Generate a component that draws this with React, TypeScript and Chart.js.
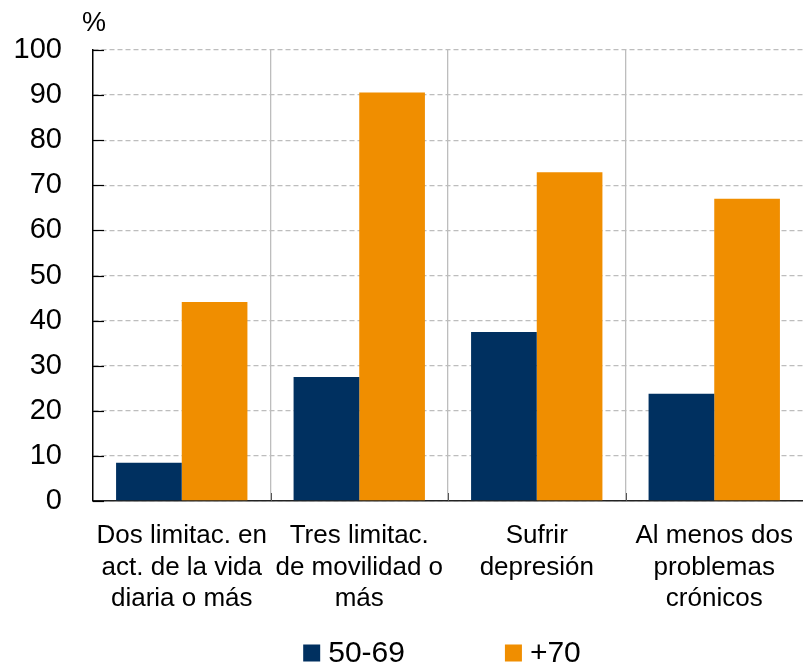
import React, { useEffect, useRef } from "react";
import { Chart, registerables } from "chart.js";

Chart.register(...registerables);

const categories: string[][] = [
  ["Dos limitac. en", "act. de la vida", "diaria o más"],
  ["Tres limitac.", "de movilidad o", "más"],
  ["Sufrir", "depresión"],
  ["Al menos dos", "problemas", "crónicos"],
];
const seriesNames = ["50-69", "+70"];
const values5069 = [8.5, 27.5, 37.5, 23.8];
const values70 = [44.1, 90.6, 72.9, 67.0];
const colors = ["#003060", "#F08E00"];
const yUnit = "%";

const FONT = '"Liberation Sans", Arial, Helvetica, sans-serif';

const extrasPlugin = {
  id: "extras",
  afterDatasetsDraw(chart: any) {
    const { ctx, chartArea } = chart;
    const y = chart.scales.y;
    const x = chart.scales.x;
    ctx.save();
    // inward ticks on y axis
    ctx.strokeStyle = "#000";
    ctx.lineWidth = 1.2;
    y.ticks.forEach((t: any) => {
      const py = Math.round(y.getPixelForValue(t.value)) + 0.5;
      ctx.beginPath();
      ctx.moveTo(chartArea.left, py);
      ctx.lineTo(chartArea.left + 11, py);
      ctx.stroke();
    });
    // short dark ticks at category boundaries
    ctx.strokeStyle = "#555";
    ctx.lineWidth = 1;
    for (let i = 1; i < categories.length; i++) {
      const px = Math.round((x.getPixelForValue(i - 1) + x.getPixelForValue(i)) / 2) + 0.5;
      ctx.beginPath();
      ctx.moveTo(px, chartArea.bottom);
      ctx.lineTo(px, chartArea.bottom - 8);
      ctx.stroke();
    }
    // unit label
    ctx.fillStyle = "#000";
    ctx.font = `27px ${FONT}`;
    ctx.textAlign = "center";
    ctx.textBaseline = "middle";
    ctx.fillText(yUnit, chartArea.left + 1, chartArea.top - 26);
    // legend
    ctx.font = `30px ${FONT}`;
    ctx.textAlign = "left";
    const box = 17;
    const gapText = 8;
    const gapItem = 100;
    const widths = seriesNames.map((n) => ctx.measureText(n).width);
    const total = widths.reduce((a: number, w: number) => a + box + gapText + w, 0) + gapItem * (seriesNames.length - 1);
    const cx = (chartArea.left + chartArea.right) / 2 - 6;
    let sx = cx - total / 2;
    const ly = 653;
    seriesNames.forEach((n, i) => {
      ctx.fillStyle = colors[i];
      ctx.fillRect(sx, ly - box / 2, box, box);
      ctx.fillStyle = "#000";
      ctx.fillText(n, sx + box + gapText, ly + 1);
      sx += box + gapText + widths[i] + gapItem;
    });
    ctx.restore();
  },
};

export default function App() {
  const ref = useRef<HTMLCanvasElement>(null);
  useEffect(() => {
    if (!ref.current) return;
    const chart = new Chart(ref.current, {
      type: "bar",
      data: {
        labels: categories,
        datasets: [
          {
            label: seriesNames[0],
            data: values5069,
            backgroundColor: colors[0],
            categoryPercentage: 0.74,
            barPercentage: 1,
          },
          {
            label: seriesNames[1],
            data: values70,
            backgroundColor: colors[1],
            categoryPercentage: 0.74,
            barPercentage: 1,
          },
        ],
      },
      options: {
        animation: false,
        responsive: false,
        maintainAspectRatio: false,
        layout: { padding: { top: 50, bottom: 55, left: 0, right: 0 } },
        plugins: {
          legend: { display: false },
          tooltip: { enabled: false },
        },
        scales: {
          x: {
            offset: true,
            grid: {
              offset: true,
              drawTicks: false,
              color: (c: any) =>
                c.type !== "tick" || c.index === 0 ? "rgba(0,0,0,0)" : "#bdbdbd",
              lineWidth: 1.3,
            },
            border: { display: true, color: "#222", width: 1.5 },
            ticks: {
              color: "#000",
              font: { family: FONT, size: 26, lineHeight: 1.22 },
              padding: 19,
              maxRotation: 0,
              autoSkip: false,
            },
            afterFit: (s: any) => {
              s.height = 110;
              s.paddingLeft = 0;
              s.paddingRight = 0;
            },
          },
          y: {
            min: 0,
            max: 100,
            ticks: {
              stepSize: 10,
              color: "#000",
              font: { family: FONT, size: 29 },
              padding: 31,
            },
            grid: {
              drawTicks: false,
              color: "#bdbdbd",
              lineWidth: 1.3,
            },
            border: { display: true, color: "#000", width: 1.5, dash: [5, 3] },
            afterFit: (s: any) => {
              s.width = 93;
              s.paddingTop = 0;
              s.paddingBottom = 0;
            },
          },
        },
      },
      plugins: [extrasPlugin],
    });
    return () => chart.destroy();
  }, []);
  return (
    <div style={{ position: "fixed", left: 0, top: 0, width: 803, height: 666, background: "#fff" }}>
      <canvas ref={ref} width={803} height={666} style={{ width: 803, height: 666 }} />
    </div>
  );
}
